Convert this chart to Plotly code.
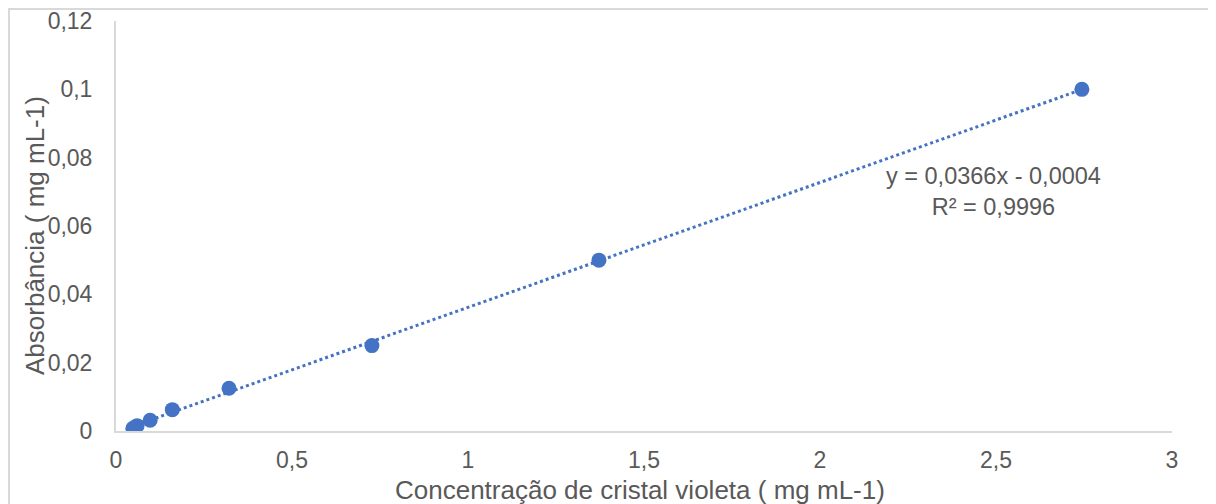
import numpy as np
import plotly.graph_objects as go

# Data
concentracao = [0.048, 0.06, 0.097, 0.16, 0.321, 0.727, 1.372, 2.744]
absorbancia = [0.00078, 0.0015625, 0.003125, 0.00625, 0.0125, 0.025, 0.05, 0.1]
x_ticks = [0, 0.5, 1, 1.5, 2, 2.5, 3]
y_ticks = [0, 0.02, 0.04, 0.06, 0.08, 0.1, 0.12]
x_title = "Concentração de cristal violeta ( mg mL-1)"
y_title = "Absorbância ( mg mL-1)"
eq_text = "y = 0,0366x - 0,0004<br>R² = 0,9996"

blue = "#4472C4"
grey_txt = "#595959"
axis_col = "#D9D9D9"

slope, intercept = np.polyfit(concentracao, absorbancia, 1)
tx = [min(concentracao), max(concentracao)]
ty = [slope * v + intercept for v in tx]

fig = go.Figure()
fig.add_trace(go.Scatter(x=tx, y=ty, mode="lines",
                         line=dict(color=blue, width=3, dash="dot"),
                         hoverinfo="skip", showlegend=False))
fig.add_trace(go.Scatter(x=concentracao, y=absorbancia, mode="markers",
                         marker=dict(color=blue, size=15), showlegend=False))

W, H = 1208, 496
L, R, T, B = 108, 44, 13, 73
pw, ph = W - L - R, H - T - B

font = "Liberation Sans, Arial, sans-serif"
fig.update_layout(
    width=W, height=H,
    margin=dict(l=L, r=R, t=T, b=B),
    paper_bgcolor="white", plot_bgcolor="white",
    separators=",.",
    font=dict(family=font, size=23, color=grey_txt),
    xaxis=dict(range=[0, 3], tickvals=x_ticks, showgrid=False, zeroline=False,
               showline=True, linecolor=axis_col, linewidth=2, automargin=False,
               ticks="outside", ticklen=7, tickcolor="rgba(0,0,0,0)",
               ticklabeloverflow="allow"),
    yaxis=dict(range=[0, 0.12], tickvals=y_ticks, showgrid=False, zeroline=False,
               showline=True, linecolor=axis_col, linewidth=2, automargin=False,
               ticks="outside", ticklen=17, tickcolor="rgba(0,0,0,0)",
               ticklabeloverflow="allow"),
    annotations=[
        dict(x=2.494, y=0.0702, xref="x", yref="y", text=eq_text,
             showarrow=False, align="center",
             font=dict(size=23.5, color=grey_txt)),
        dict(x=(632 - L) / pw, y=-(482 - (H - B)) / ph, xref="paper", yref="paper",
             text=x_title, showarrow=False, xanchor="center", yanchor="middle",
             font=dict(size=26, color=grey_txt)),
        dict(x=(27 - L) / pw, y=((H - B) - 228) / ph, xref="paper", yref="paper",
             text=y_title, showarrow=False, textangle=-90,
             xanchor="center", yanchor="middle",
             font=dict(size=26, color=grey_txt)),
    ],
    shapes=[dict(type="rect", xref="paper", yref="paper",
                 x0=(1 - L) / pw, x1=(W + 20 - L) / pw,
                 y0=-(B + 20) / ph, y1=((H - B) - 1) / ph,
                 line=dict(color=axis_col, width=2), layer="below")],
)

fig.write_html("out.html")
